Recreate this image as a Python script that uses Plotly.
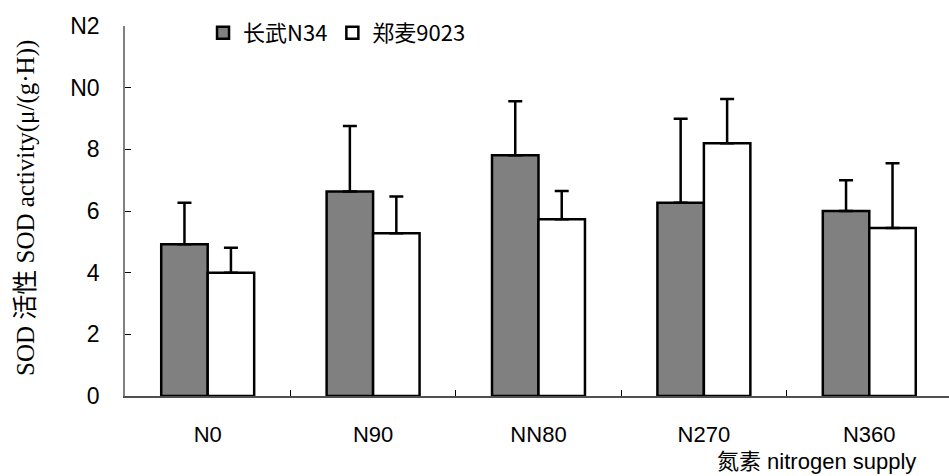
import plotly.graph_objects as go

categories = ["N0", "N90", "NN80", "N270", "N360"]
series_names = ["长武N34", "郑麦9023"]
changwu_vals = [4.92, 6.63, 7.81, 6.27, 6.00]
changwu_err = [1.35, 2.13, 1.75, 2.72, 1.00]
zhengmai_vals = [4.00, 5.28, 5.73, 8.20, 5.45]
zhengmai_err = [0.81, 1.19, 0.92, 1.43, 2.10]
y_tickvals = [0, 2, 4, 6, 8, 10, 12]
y_ticktext = ["0", "2", "4", "6", "8", "N0", "N2"]
y_title = "SOD 活性 SOD activity(μ/(g·H))"
x_title = "氮素 nitrogen supply"

W, H = 949, 476
L, R, T, B = 125, 0, 26, 80

fig = go.Figure()
fig.add_trace(go.Bar(
    x=categories, y=changwu_vals, name=series_names[0],
    marker=dict(color="#808080", line=dict(color="black", width=2.5)),
    error_y=dict(type="data", symmetric=False, array=changwu_err,
                 arrayminus=[0] * len(changwu_err), color="black",
                 thickness=2.5, width=7),
))
fig.add_trace(go.Bar(
    x=categories, y=zhengmai_vals, name=series_names[1],
    marker=dict(color="white", line=dict(color="black", width=2.5)),
    error_y=dict(type="data", symmetric=False, array=zhengmai_err,
                 arrayminus=[0] * len(zhengmai_err), color="black",
                 thickness=2.5, width=7),
))

fig.update_layout(
    width=W, height=H,
    margin=dict(l=L, r=R, t=T, b=B, pad=0),
    paper_bgcolor="white", plot_bgcolor="white",
    barmode="group", bargap=0.438, bargroupgap=0,
    font=dict(family="Liberation Sans, Noto Sans CJK SC", size=22, color="black"),
    legend=dict(orientation="h", x=0.0947, y=0.981, xanchor="left", yanchor="middle",
                font=dict(family="Noto Sans CJK SC, Liberation Sans", size=22, color="black"),
                bgcolor="rgba(0,0,0,0)", traceorder="normal"),
    showlegend=True,
)
fig.update_xaxes(
    type="category", range=[-0.5, 4.482], tickson="boundaries",
    ticks="inside", ticklen=6, tickcolor="black", tickwidth=1,
    showline=True, linecolor="#505050", linewidth=1.5,
    showgrid=False, zeroline=False, ticklabelstandoff=18,
    tickfont=dict(family="Liberation Sans", size=22, color="black"),
)
fig.update_yaxes(
    range=[0, 12], tickvals=y_tickvals, ticktext=y_ticktext,
    ticks="inside", ticklen=6, tickcolor="black", tickwidth=1,
    showline=True, linecolor="#808080", linewidth=1.5,
    showgrid=False, zeroline=False, ticklabelstandoff=19,
    tickfont=dict(family="Liberation Sans", size=23, color="black"),
)

plot_w = W - L - R
plot_h = H - T - B
fig.add_annotation(
    text=y_title, textangle=-90, showarrow=False,
    xref="paper", yref="paper",
    x=(26 - L) / plot_w, y=(H - B - 208) / plot_h,
    xanchor="center", yanchor="middle",
    font=dict(family="Liberation Serif, Noto Sans CJK SC", size=25, color="black"),
)
fig.add_annotation(
    text=x_title, showarrow=False,
    xref="paper", yref="paper",
    x=(918 - L) / plot_w, y=-(461 - (H - B)) / plot_h,
    xanchor="right", yanchor="middle",
    font=dict(family="Liberation Sans, Noto Sans CJK SC", size=22, color="black"),
)

fig.write_html("out.html")
